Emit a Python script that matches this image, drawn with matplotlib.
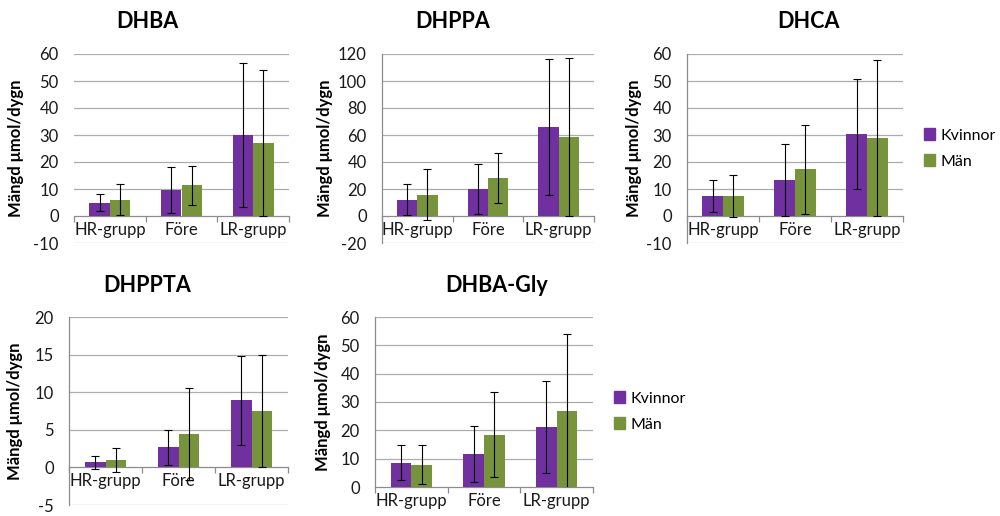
import matplotlib
matplotlib.use("Agg")
import matplotlib.pyplot as plt
from matplotlib.patches import Patch
import numpy as np

plt.rcParams['font.family'] = ['Lato', 'DejaVu Sans']

categories = ["HR-grupp", "Före", "LR-grupp"]
series_names = ["Kvinnor", "Män"]

titles = ["DHBA", "DHPPA", "DHCA", "DHPPTA", "DHBA-Gly"]

dhba_k = [5.0, 9.6, 30.0]
dhba_k_err = [3.1, 8.6, 26.7]
dhba_m = [6.1, 11.3, 27.0]
dhba_m_err = [5.9, 7.3, 26.9]

dhppa_k = [12.1, 20.2, 66.0]
dhppa_k_err = [11.5, 18.4, 50.2]
dhppa_m = [15.9, 28.2, 58.5]
dhppa_m_err = [19.1, 18.7, 58.5]

dhca_k = [7.5, 13.2, 30.3]
dhca_k_err = [6.0, 13.3, 20.4]
dhca_m = [7.4, 17.3, 28.9]
dhca_m_err = [7.7, 16.4, 28.9]

dhppta_k = [0.66, 2.65, 8.9]
dhppta_k_err = [0.92, 2.3, 5.9]
dhppta_m = [0.98, 4.45, 7.5]
dhppta_m_err = [1.62, 6.1, 7.5]

dhbagly_k = [8.6, 11.8, 21.3]
dhbagly_k_err = [6.2, 9.9, 16.2]
dhbagly_m = [7.9, 18.5, 26.9]
dhbagly_m_err = [6.9, 14.9, 27.2]

ylims = [(-10, 60), (-20, 120), (-10, 60), (-5, 20), (0, 60)]
ysteps = [10, 20, 10, 5, 10]

COL_K = "#7030A0"
COL_M = "#77933C"
GRID = "#adadad"
AXC = "#8c8c8c"

W, H = 1000, 516
fig = plt.figure(figsize=(W / 100, H / 100), dpi=100)

# plot areas in pixels: left, right, top, bottom
boxes = [(74, 289, 54, 243), (382, 594, 54, 243), (687, 903, 54, 243),
         (69, 288, 317, 505), (375, 593, 317, 487)]
title_pos = [(147, 22), (453, 22), (808, 22), (147, 285), (497, 285)]
ylabel_x = [24, 333, 642, 23, 331]
show_vline = [False, True, True, True, True]

data = [
    (dhba_k, dhba_k_err, dhba_m, dhba_m_err),
    (dhppa_k, dhppa_k_err, dhppa_m, dhppa_m_err),
    (dhca_k, dhca_k_err, dhca_m, dhca_m_err),
    (dhppta_k, dhppta_k_err, dhppta_m, dhppta_m_err),
    (dhbagly_k, dhbagly_k_err, dhbagly_m, dhbagly_m_err),
]

x = np.arange(len(categories))
bw = 1 / 3.5

for i, (k, ke, m, me) in enumerate(data):
    l, r, t, b = boxes[i]
    ax = fig.add_axes([l / W, (H - b) / H, (r - l) / W, (b - t) / H])
    lo, hi = ylims[i]
    ax.set_xlim(-0.5, 2.5)
    ax.set_ylim(lo, hi)
    yt = np.arange(lo, hi + 0.001, ysteps[i])
    ax.set_yticks(yt)
    ax.set_yticklabels([f"{int(v)}" for v in yt])
    for v in yt:
        if v != 0:
            ax.axhline(v, color=GRID, lw=0.9, zorder=0)
    ax.bar(x - bw / 2, k, bw, color=COL_K, zorder=2)
    ax.bar(x + bw / 2, m, bw, color=COL_M, zorder=2)
    ax.errorbar(x - bw / 2, k, yerr=ke, fmt='none', ecolor='black',
                elinewidth=0.8, capsize=3.2, capthick=0.8, zorder=3)
    ax.errorbar(x + bw / 2, m, yerr=me, fmt='none', ecolor='black',
                elinewidth=0.8, capsize=3.2, capthick=0.8, zorder=3)
    for s in ['top', 'right']:
        ax.spines[s].set_visible(False)
    ax.spines['left'].set_visible(show_vline[i])
    ax.spines['left'].set_color(AXC)
    ax.spines['left'].set_linewidth(0.9)
    ax.spines['bottom'].set_position(('data', 0))
    ax.spines['bottom'].set_color(AXC)
    ax.spines['bottom'].set_linewidth(0.9)
    ax.spines['bottom'].set_zorder(1)
    ax.set_xticks(x)
    ax.set_xticklabels(categories)
    ax.set_xticks([-0.5, 0.5, 1.5, 2.5], minor=True)
    ax.tick_params(axis='x', which='major', length=0, pad=4, labelsize=12,
                   colors='#1a1a1a')
    ax.tick_params(axis='x', which='minor', length=4, width=0.9, color=AXC,
                   direction='out')
    ax.tick_params(axis='y', length=0, pad=11, labelsize=12, colors='#1a1a1a')
    ax.set_facecolor('none')
    ax.set_ylabel("Mängd μmol/dygn", fontsize=12, fontweight='bold')
    ax.yaxis.set_label_coords((ylabel_x[i] - l) / (r - l), 0.5)
    tx, ty = title_pos[i]
    fig.text(tx / W, (H - ty) / H, titles[i], ha='center', va='center',
             fontsize=15.5, fontweight='bold')

handles = [Patch(color=COL_K, label=series_names[0]),
           Patch(color=COL_M, label=series_names[1])]
for (lx, ly) in [(924, 148.5), (614, 411.5)]:
    fig.legend(handles=handles, loc='center left',
               bbox_to_anchor=(lx / W, (H - ly) / H), frameon=False,
               fontsize=11.5, handlelength=0.7, handleheight=0.7,
               handletextpad=0.35, labelspacing=0.75, borderpad=0,
               borderaxespad=0)

fig.savefig("out.png", dpi=100)
